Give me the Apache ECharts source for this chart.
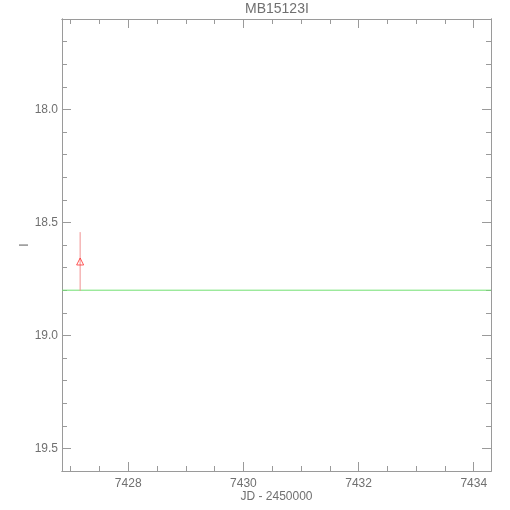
<!DOCTYPE html>
<html><head><meta charset="utf-8">
<script src="https://cdn.jsdelivr.net/npm/echarts@6/dist/echarts.min.js"></script>
<style>html,body{margin:0;padding:0;background:#fff}#c{width:510px;height:510px}</style>
</head><body><div id="c"></div>
<script>
const title = 'MB15123I';
const xName = 'JD - 2450000';
const yName = 'I';
const xRange = [7426.85, 7434.3];
const yRange = [17.6, 19.6];
const xMajor = [7428, 7430, 7432, 7434];
const xMinor = [7427, 7427.5, 7428.5, 7429, 7429.5, 7430.5, 7431, 7431.5, 7432.5, 7433, 7433.5];
const yMajor = [18.0, 18.5, 19.0, 19.5];
const yMinor = [17.7, 17.8, 17.9, 18.1, 18.2, 18.3, 18.4, 18.6, 18.7, 18.8, 18.9, 19.1, 19.2, 19.3, 19.4];
const obsJD = [7427.165];
const obsMag = [18.673];
const obsErrLo = [18.543];
const obsErrHi = [18.803];
const baseline = 18.8;

const axisCol = '#9a9a9a';
const textCol = '#707070';
const font = 'Liberation Sans, Arial, sans-serif';

function xAx(pos, vals, len, labels, name) {
  return {
    type: 'value', position: pos, min: xRange[0], max: xRange[1],
    axisLine: {show: true, onZero: false, lineStyle: {color: axisCol, width: 1}},
    axisTick: {show: true, inside: true, length: len, customValues: vals, lineStyle: {color: axisCol}},
    axisLabel: labels ? {show: true, customValues: vals, color: textCol, fontSize: 12, fontFamily: font, margin: 7, formatter: v => String(v)} : {show: false},
    splitLine: {show: false},
    name: name || '', nameLocation: 'middle', nameGap: 20, nameMoveOverlap: false,
    nameTextStyle: {color: textCol, fontSize: 12, fontFamily: font}
  };
}
function yAx(pos, vals, len, labels, name) {
  return {
    type: 'value', position: pos, min: yRange[0], max: yRange[1], inverse: true,
    axisLine: {show: true, onZero: false, lineStyle: {color: axisCol, width: 1}},
    axisTick: {show: true, inside: true, length: len, customValues: vals, lineStyle: {color: axisCol}},
    axisLabel: labels ? {show: true, customValues: vals, color: textCol, fontSize: 12, fontFamily: font, margin: 4, formatter: v => v.toFixed(1)} : {show: false},
    splitLine: {show: false},
    name: name || '', nameLocation: 'middle', nameGap: 31, nameRotate: 90, nameMoveOverlap: false,
    nameTextStyle: {color: textCol, fontSize: 12, fontFamily: font}
  };
}

const chart = echarts.init(document.getElementById('c'), null, {renderer: 'canvas'});
chart.setOption({
  animation: false,
  backgroundColor: '#fff',
  graphic: [{
    type: 'text', left: 245, top: 2,
    style: {text: title, fill: textCol, fontSize: 14, fontFamily: font}
  }],
  grid: {left: 62, right: 19, top: 19, bottom: 39, containLabel: false},
  xAxis: [
    xAx('bottom', xMajor, 9, true, xName),
    xAx('bottom', xMinor, 5, false),
    xAx('top', xMajor, 9, false),
    xAx('top', xMinor, 5, false)
  ],
  yAxis: [
    yAx('left', yMajor, 9, true, yName),
    yAx('left', yMinor, 5, false),
    yAx('right', yMajor, 9, false),
    yAx('right', yMinor, 5, false)
  ],
  series: [
    {
      type: 'custom', xAxisIndex: 0, yAxisIndex: 0,
      data: obsJD.map((x, i) => [x, obsErrLo[i], obsErrHi[i]]),
      renderItem: (params, api) => {
        const p1 = api.coord([api.value(0), api.value(1)]);
        const p2 = api.coord([api.value(0), api.value(2)]);
        return {type: 'line', shape: {x1: p1[0], y1: p1[1], x2: p2[0], y2: p2[1]}, style: {stroke: '#f09090', lineWidth: 1}};
      },
      z: 2
    },
    {
      type: 'line', xAxisIndex: 0, yAxisIndex: 0,
      data: [[xRange[0], baseline], [xRange[1], baseline]],
      symbol: 'none', lineStyle: {color: '#70e070', width: 1}, z: 1
    },
    {
      type: 'scatter', xAxisIndex: 0, yAxisIndex: 0,
      data: obsJD.map((x, i) => [x, obsMag[i]]),
      symbol: 'triangle', symbolSize: [7, 7],
      itemStyle: {color: 'rgba(255,255,255,0)', borderColor: '#ff3030', borderWidth: 1}, z: 3
    }
  ]
});
</script></body></html>
